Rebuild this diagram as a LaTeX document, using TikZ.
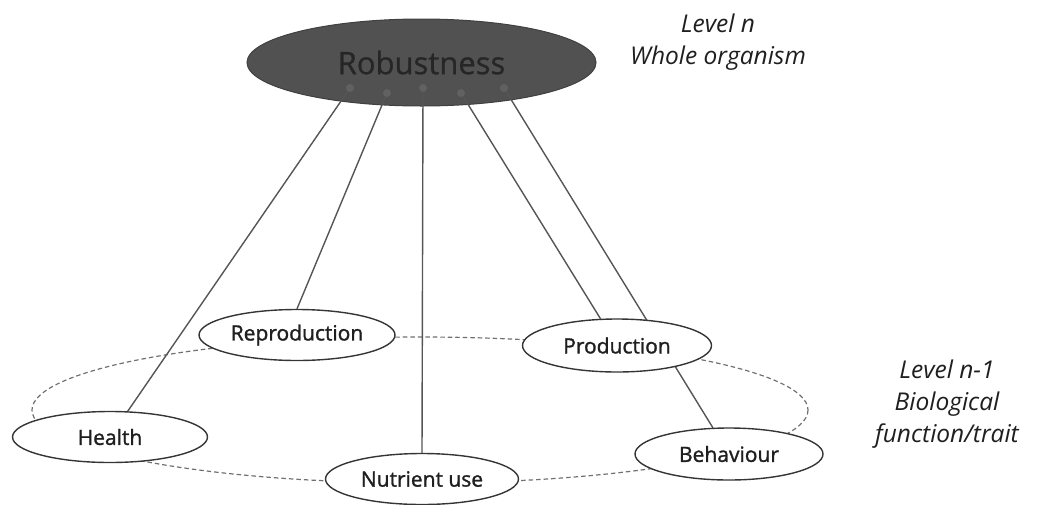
\documentclass[tikz,border=0pt]{standalone}
\usepackage{fontspec}
\setmainfont{Open Sans}
\newfontfamily\traitfont{Open Sans}[FakeBold=1.3]
\newfontfamily\robfont{Open Sans}[FakeBold=0.8]
\usetikzlibrary{shapes.geometric}
\pgfdeclarelayer{back}
\pgfdeclarelayer{mid}
\pgfsetlayers{back,mid,main}
\definecolor{robfill}{HTML}{515151}
\definecolor{robtext}{HTML}{262626}
\definecolor{linegray}{HTML}{555555}
\definecolor{bordergray}{HTML}{353535}
\definecolor{dashgray}{HTML}{707070}
\tikzset{
  trait/.style={ellipse, draw=bordergray, line width=1.4pt, fill=white, inner sep=0pt,
    minimum width=#1, minimum height=51pt, font=\traitfont\fontsize{21}{24}\selectfont, text=black!88},
  trait/.default=192pt,
  conn/.style={draw=linegray, line width=1.4pt},
  dotnode/.style={circle, fill=black!62, inner sep=0pt, minimum size=8pt},
  levellabel/.style={font=\fontsize{24.5}{32}\selectfont\itshape, align=center, text=black!88}
}
\begin{document}
\begin{tikzpicture}[x=1pt,y=-1pt]
\useasboundingbox (0,0) rectangle (1043,504);
\begin{pgfonlayer}{back}
% dashed ring
\draw[dashgray, line width=1.2pt, dash pattern=on 4.5pt off 3pt] (420,410) ellipse [x radius=388, y radius=73];
% top ellipse
\node[ellipse, fill=robfill, draw=black!75, line width=1pt, minimum width=349pt, minimum height=87pt, inner sep=0pt,
  font=\robfont\fontsize{31}{36}\selectfont, text=robtext] (rob) at (421.5,62.5) {Robustness};
\end{pgfonlayer}
% dots
\node[dotnode] (d1) at (350,88) {};
\node[dotnode] (d2) at (387,93) {};
\node[dotnode] (d3) at (423,88) {};
\node[dotnode] (d4) at (461,93) {};
\node[dotnode] (d5) at (504,88) {};
% trait nodes
\node[trait=195pt] (health) at (110,437) {Health};
\node[trait=196pt] (repro) at (297,335) {Reproduction};
\node[trait=193pt] (nutri) at (422,479) {Nutrient use};
\node[trait=189pt, minimum height=53pt] (prod) at (617,345.5) {Production};
\node[trait=188pt, minimum height=52pt] (behav) at (729,454) {Behaviour};
% connectors behind the trait nodes
\begin{pgfonlayer}{mid}
\path[conn] (d1.center) -- (health);
\path[conn] (d2.center) -- (repro.north);
\path[conn] (d3.center) -- (nutri.north);
\path[conn] (d4.center) -- (prod);
\path[conn] (d5.center) -- (behav);
\end{pgfonlayer}
% level labels
\node[levellabel] (ln) at (718,42) {Level n\\Whole organism};
\node[levellabel] (ln1) at (947,404) {Level n-1\\Biological\\function/trait};
\end{tikzpicture}
\end{document}
